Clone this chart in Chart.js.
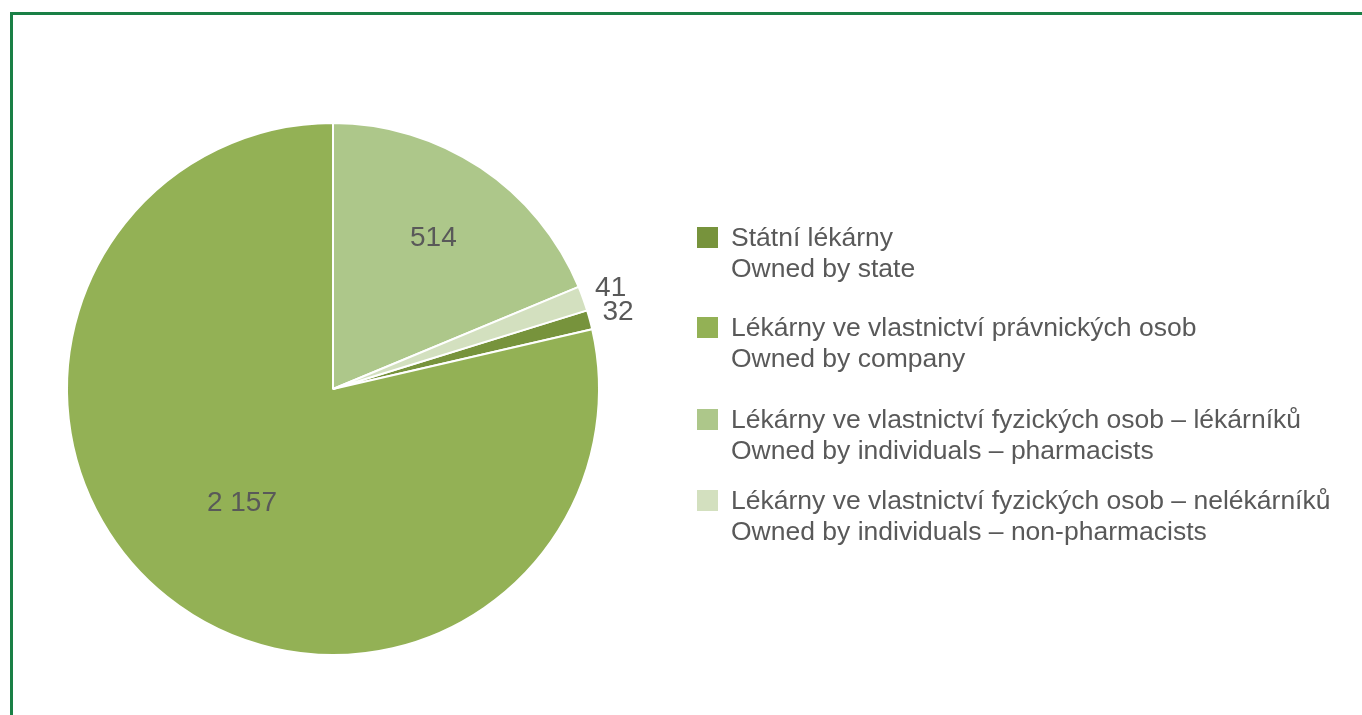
<!DOCTYPE html>
<html>
<head>
<meta charset="utf-8">
<script src="https://cdn.jsdelivr.net/npm/chart.js@4"></script>
<style>
  html, body { margin:0; padding:0; background:#fff; }
  body { width:1362px; height:715px; position:relative; overflow:hidden; font-family:"Liberation Sans", Arial, sans-serif; }
  .frame { position:absolute; left:10px; top:12px; width:1400px; height:800px; border-left:3px solid #1a8046; border-top:3px solid #1a8046; }
  #wrap { position:absolute; left:0; top:0; width:1362px; height:715px; }
  .legend { position:absolute; left:697px; top:0; color:#595959; font-size:26.5px; line-height:31px; }
  .legend .item { position:absolute; left:0; white-space:nowrap; }
  .legend .sw { position:absolute; left:0; top:5px; width:21px; height:21px; }
  .legend .txt { position:absolute; left:34px; top:0; }
</style>
</head>
<body>
<div class="frame"></div>
<div id="wrap"><canvas id="pie"></canvas></div>
<div class="legend" id="legend"></div>
<script>
const labelsCz = ['Státní lékárny', 'Lékárny ve vlastnictví právnických osob', 'Lékárny ve vlastnictví fyzických osob – lékárníků', 'Lékárny ve vlastnictví fyzických osob – nelékárníků'];
const labelsEn = ['Owned by state', 'Owned by company', 'Owned by individuals – pharmacists', 'Owned by individuals – non-pharmacists'];
const values = [32, 2157, 514, 41];
const colors = ['#77933c', '#93b155', '#adc78a', '#d3e0bf'];

// legend
const legendTops = [222, 312, 404, 485];
document.getElementById('legend').innerHTML = labelsCz.map((l, i) => `
  <div class="item" style="top:${legendTops[i]}px">
    <div class="sw" style="background:${colors[i]}"></div>
    <div class="txt">${l}<br>${labelsEn[i]}</div>
  </div>`).join('');

const fmt = v => String(v).replace(/\B(?=(\d{3})+(?!\d))/g, ' ');
const labelR = [1.11, 0.55, 0.68, 1.11];

const valueLabels = {
  id: 'valueLabels',
  afterDatasetsDraw(chart) {
    const ctx = chart.ctx;
    const meta = chart.getDatasetMeta(0);
    ctx.save();
    ctx.font = '28px "Liberation Sans", Arial, sans-serif';
    ctx.fillStyle = '#595959';
    ctx.textAlign = 'center';
    ctx.textBaseline = 'middle';
    meta.data.forEach((arc, i) => {
      const p = arc.getProps(['x','y','startAngle','endAngle','outerRadius'], true);
      const mid = (p.startAngle + p.endAngle) / 2;
      const r = p.outerRadius * labelR[i];
      ctx.fillText(fmt(values[i]), p.x + Math.cos(mid) * r, p.y + Math.sin(mid) * r);
    });
    ctx.restore();
  }
};

const total = values.reduce((a, b) => a + b, 0);
new Chart(document.getElementById('pie'), {
  type: 'pie',
  data: {
    labels: labelsCz,
    datasets: [{ data: values, backgroundColor: colors, borderColor: '#ffffff', borderWidth: 2 }]
  },
  options: {
    responsive: true, maintainAspectRatio: false, animation: false,
    rotation: (values[2] + values[3]) / total * 360,
    layout: { padding: { left: 66, top: 122, right: 762, bottom: 59 } },
    plugins: { legend: { display: false }, tooltip: { enabled: false } }
  },
  plugins: [valueLabels]
});
</script>
</body>
</html>
